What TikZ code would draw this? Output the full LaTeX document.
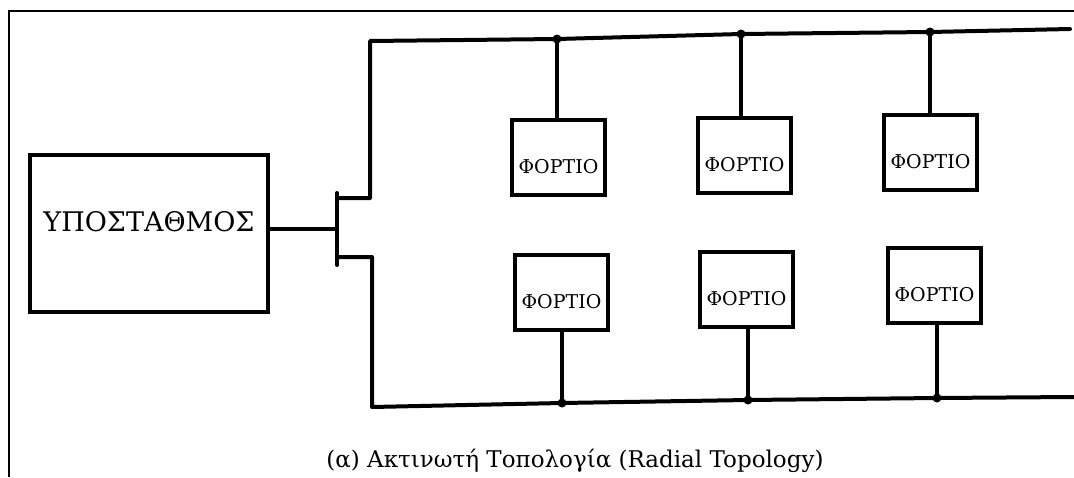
\documentclass[tikz,border=0pt]{standalone}
\usepackage{fontspec}
\setmainfont{DejaVu Serif}
\begin{document}
\begin{tikzpicture}[x=1pt,y=-1pt,
  wire/.style={line width=4pt,line cap=round,line join=round},
  frameline/.style={line width=1.5pt},
  loadbox/.style={draw,line width=4pt,minimum width=93pt,minimum height=75pt,inner sep=0pt,
     font=\fontsize{19}{19}\selectfont,text height=32pt,text depth=0pt},
  subbox/.style={draw,line width=4pt,minimum width=238pt,minimum height=157pt,inner sep=0pt,
     font=\fontsize{27}{27}\selectfont,text height=0pt,text depth=3pt},
  dot/.style={circle,fill,inner sep=0pt,minimum size=9pt}]
\useasboundingbox (0,0) rectangle (1074,477);
\fill[white] (0,0) rectangle (1074,477);
% frame
\draw[frameline] (9,477) -- (9,11) -- (1074,11);
% substation
\node[subbox] (sub) at (149,233) {ΥΠΟΣΤΑΘΜΟΣ};
% T bar
\coordinate (tb) at (337,229);
\coordinate (tbt) at (337,193);
\coordinate (tbb) at (337,265);
\coordinate (ta) at (337,198);
\coordinate (tc) at (337,257);
\draw[wire] ([yshift=4pt]sub.east) -- (tb);
\draw[wire] (tbt) -- (tbb);
% top bus
\coordinate (u0) at (370,41);
\coordinate (uend) at (1070,29);
\node[dot] (j1) at (557,39) {};
\node[dot] (j2) at (741,34) {};
\node[dot] (j3) at (930,32) {};
\draw[wire] (ta) -- (u0 |- ta) -- (u0) -- (j1.center) -- (j2.center) -- (j3.center) -- (uend);
% bottom bus
\coordinate (b0) at (372,407);
\coordinate (bend) at (1074,397);
\node[dot] (j4) at (562,403) {};
\node[dot] (j5) at (748,400) {};
\node[dot] (j6) at (937,398) {};
\draw[wire] (tc) -- (b0 |- tc) -- (b0) -- (j4.center) -- (j5.center) -- (j6.center) -- (bend);
% loads
\node[loadbox] (l1) at (558.5,157.5) {ΦΟΡΤΙΟ};
\node[loadbox] (l2) at (744.5,155) {ΦΟΡΤΙΟ};
\node[loadbox] (l3) at (930.5,152.5) {ΦΟΡΤΙΟ};
\node[loadbox] (l4) at (561.5,292.5) {ΦΟΡΤΙΟ};
\node[loadbox] (l5) at (746.5,289.5) {ΦΟΡΤΙΟ};
\node[loadbox] (l6) at (934.5,285.5) {ΦΟΡΤΙΟ};
\draw[wire] (j1.center) -- (j1.center |- l1.north);
\draw[wire] (j2.center) -- (j2.center |- l2.north);
\draw[wire] (j3.center) -- (j3.center |- l3.north);
\draw[wire] (j4.center) -- (j4.center |- l4.south);
\draw[wire] (j5.center) -- (j5.center |- l5.south);
\draw[wire] (j6.center) -- (j6.center |- l6.south);
% caption
\node[font=\fontsize{23}{23}\selectfont] (cap) at (575,461) {(α) Ακτινωτή Τοπολογία (Radial Topology)};
\end{tikzpicture}
\end{document}
